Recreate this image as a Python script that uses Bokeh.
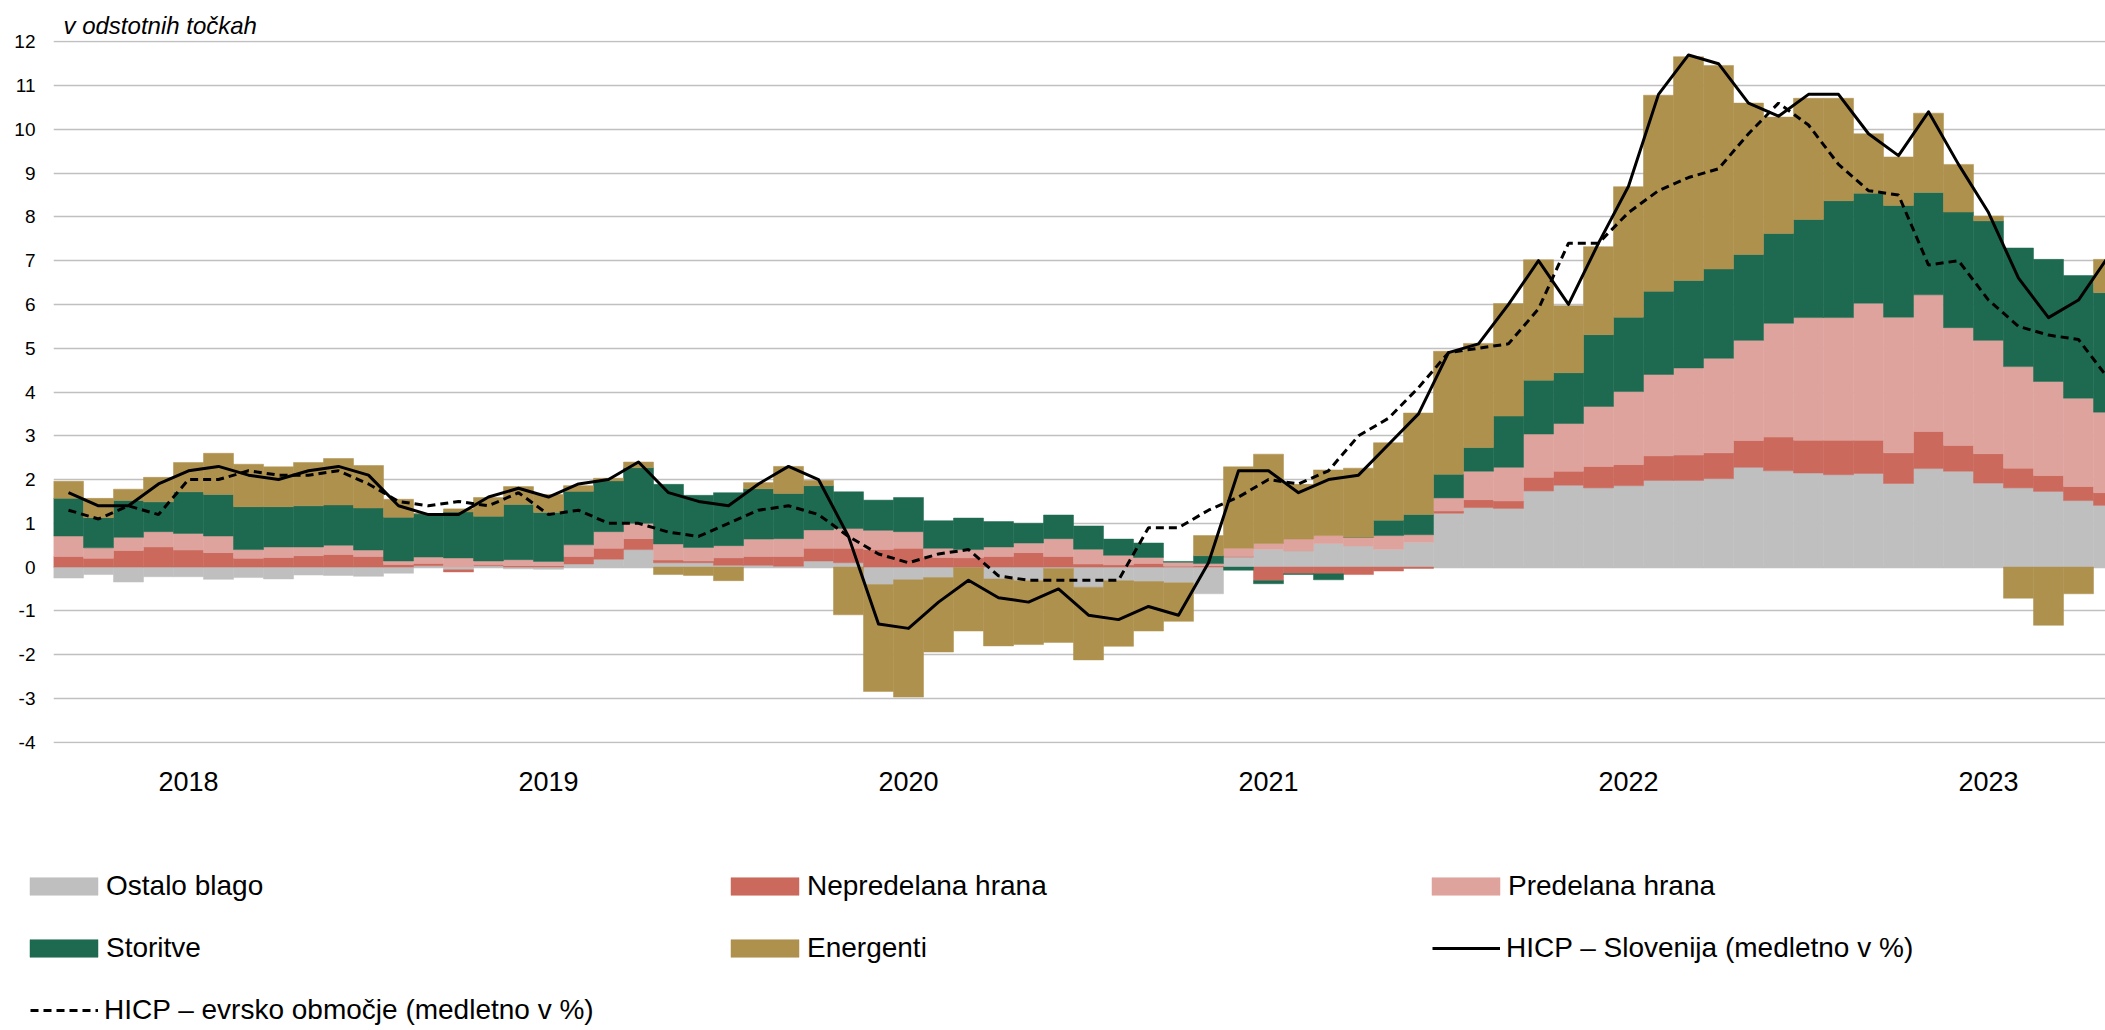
import numpy as np
from bokeh.plotting import figure
from bokeh.models import Range1d, FixedTicker, Legend, LegendItem
from bokeh.embed import file_html
from bokeh.resources import INLINE

# ---------------- data (monthly, Jan 2018 - Sep 2023) ----------------
ostalo_blago = [-0.25, -0.17, -0.34, -0.22, -0.22, -0.28, -0.24, -0.27, -0.18, -0.19, -0.21, -0.14,
                0.03, -0.06, 0.03, -0.04, -0.05, 0.07, 0.18, 0.40, 0.10, 0.10, 0.04, 0.04,
                0.02, 0.14, 0.10, -0.40, -0.29, -0.24, -0.01, -0.27, -0.31, -0.03, -0.46, -0.31,
                -0.33, -0.36, -0.61, 0.23, 0.41, 0.37, 0.54, 0.48, 0.41, 0.57, 1.23, 1.36,
                1.34, 1.74, 1.87, 1.81, 1.86, 1.98, 1.98, 2.02, 2.28, 2.20, 2.15, 2.11,
                2.14, 1.91, 2.25, 2.19, 1.92, 1.81, 1.73, 1.52, 1.41]
nepredelana_hrana = [0.24, 0.20, 0.38, 0.46, 0.39, 0.33, 0.20, 0.22, 0.26, 0.29, 0.24, 0.06,
                     0.05, -0.05, 0.03, 0.03, 0.03, 0.17, 0.25, 0.25, 0.06, 0.04, 0.17, 0.20,
                     0.22, 0.29, 0.33, 0.40, 0.43, 0.22, 0.21, 0.24, 0.33, 0.24, 0.07, 0.05,
                     0.08, 0.02, 0.03, 0.01, -0.31, -0.15, -0.15, -0.17, -0.09, -0.03, 0.05, 0.18,
                     0.17, 0.31, 0.32, 0.49, 0.48, 0.56, 0.58, 0.59, 0.61, 0.77, 0.75, 0.79,
                     0.76, 0.70, 0.85, 0.59, 0.67, 0.45, 0.36, 0.32, 0.29]
predelana_hrana = [0.47, 0.24, 0.30, 0.35, 0.38, 0.38, 0.20, 0.24, 0.20, 0.21, 0.15, 0.08,
                   0.15, 0.21, 0.08, 0.14, 0.10, 0.27, 0.38, 0.35, 0.37, 0.31, 0.28, 0.40,
                   0.41, 0.42, 0.45, 0.44, 0.38, 0.21, 0.19, 0.22, 0.22, 0.41, 0.34, 0.22,
                   0.14, 0.09, 0.05, 0.19, 0.13, 0.27, 0.18, 0.20, 0.31, 0.17, 0.30, 0.65,
                   0.77, 0.99, 1.09, 1.37, 1.67, 1.86, 1.99, 2.16, 2.29, 2.60, 2.80, 2.80,
                   3.13, 3.10, 3.12, 2.69, 2.59, 2.32, 2.15, 2.02, 1.84]
storitve = [0.86, 0.69, 0.84, 0.68, 0.95, 0.95, 0.98, 0.92, 0.94, 0.92, 0.96, 1.00,
            0.99, 1.05, 1.02, 1.26, 1.12, 1.22, 1.16, 1.27, 1.36, 1.19, 1.21, 1.15,
            1.03, 1.01, 0.84, 0.69, 0.78, 0.63, 0.72, 0.58, 0.45, 0.54, 0.53, 0.37,
            0.33, 0.02, 0.18, -0.07, -0.07, -0.02, -0.14, 0.00, 0.35, 0.46, 0.54, 0.54,
            1.17, 1.23, 1.16, 1.64, 1.70, 1.90, 2.00, 2.04, 1.96, 2.05, 2.24, 2.67,
            2.51, 2.55, 2.34, 2.64, 2.73, 2.71, 2.79, 2.80, 2.73]
energenti = [0.39, 0.44, 0.26, 0.56, 0.67, 0.94, 0.97, 0.91, 0.99, 1.06, 0.97, 0.41,
             0.00, 0.07, 0.43, 0.41, 0.41, 0.13, 0.06, 0.13, -0.17, -0.19, -0.31, 0.14,
             0.62, 0.12, -1.09, -2.44, -2.68, -1.70, -1.45, -1.53, -1.46, -1.69, -1.66, -1.50,
             -1.13, -0.88, 0.46, 1.86, 2.04, 1.25, 1.50, 1.58, 1.77, 2.32, 2.81, 2.38,
             2.57, 2.75, 1.53, 2.01, 2.98, 4.48, 5.11, 4.65, 3.46, 2.66, 2.77, 2.34,
             1.36, 1.11, 1.81, 1.09, 0.11, -0.71, -1.33, -0.61, 0.76]
hicp_slovenija = [1.7, 1.4, 1.4, 1.9, 2.2, 2.3, 2.1, 2.0, 2.2, 2.3, 2.1, 1.4,
                  1.2, 1.2, 1.6, 1.8, 1.6, 1.9, 2.0, 2.4, 1.7, 1.5, 1.4, 1.9,
                  2.3, 2.0, 0.7, -1.3, -1.4, -0.8, -0.3, -0.7, -0.8, -0.5, -1.1, -1.2,
                  -0.9, -1.1, 0.1, 2.2, 2.2, 1.7, 2.0, 2.1, 2.8, 3.5, 4.9, 5.1,
                  6.0, 7.0, 6.0, 7.4, 8.7, 10.8, 11.7, 11.5, 10.6, 10.3, 10.8, 10.8,
                  9.9, 9.4, 10.4, 9.2, 8.1, 6.6, 5.7, 6.1, 7.1]
hicp_evrsko = [1.3, 1.1, 1.4, 1.2, 2.0, 2.0, 2.2, 2.1, 2.1, 2.2, 1.9, 1.5,
               1.4, 1.5, 1.4, 1.7, 1.2, 1.3, 1.0, 1.0, 0.8, 0.7, 1.0, 1.3,
               1.4, 1.2, 0.7, 0.3, 0.1, 0.3, 0.4, -0.2, -0.3, -0.3, -0.3, -0.3,
               0.9, 0.9, 1.3, 1.6, 2.0, 1.9, 2.2, 3.0, 3.4, 4.1, 4.9, 5.0,
               5.1, 5.9, 7.4, 7.4, 8.1, 8.6, 8.9, 9.1, 9.9, 10.6, 10.1, 9.2,
               8.6, 8.5, 6.9, 7.0, 6.1, 5.5, 5.3, 5.2, 4.3]
year_labels = ["2018", "2019", "2020", "2021", "2022", "2023"]
year_tick_month = [4, 16, 28, 40, 52, 64]
y_ticks = list(range(-4, 13))

series_names = ["Ostalo blago", "Nepredelana hrana", "Predelana hrana", "Storitve", "Energenti"]
series_values = [ostalo_blago, nepredelana_hrana, predelana_hrana, storitve, energenti]
series_colors = ["#BFBFBF", "#CB695D", "#DFA39D", "#1E6A50", "#AF914E"]
line_names = ["HICP – Slovenija (medletno v %)", "HICP – evrsko območje (medletno v %)"]

FONT = "Liberation Sans"
W = 2105
H_MAIN = 810
H_LEG = 220

n = len(hicp_slovenija)
x = np.arange(n)

# ---------------- main chart ----------------
p = figure(width=W, height=H_MAIN, output_backend="svg", toolbar_location=None,
           x_range=Range1d(-0.5, -0.5 + (W - 53) / 30.0), y_range=Range1d(-4.03, 12.03),
           min_border_left=53, min_border_right=0, min_border_top=40, min_border_bottom=67,
           title="v odstotnih točkah")
p.outline_line_color = None
p.background_fill_color = "white"
p.border_fill_color = "white"

p.title.text_font = FONT
p.title.text_font_size = "24px"
p.title.text_font_style = "italic"
p.title.text_color = "black"
p.title.align = "left"
p.title.offset = 10
p.title.standoff = 4

pos_base = np.zeros(n)
neg_base = np.zeros(n)
for name, vals, color in zip(series_names, series_values, series_colors):
    v = np.array(vals, dtype=float)
    bottom = np.where(v >= 0, pos_base, neg_base)
    top = bottom + v
    pos_base = np.where(v >= 0, top, pos_base)
    neg_base = np.where(v < 0, top, neg_base)
    p.vbar(x=x, bottom=bottom, top=top, width=1.0, fill_color=color,
           line_color=color, line_width=0.5)

p.line(x, hicp_slovenija, line_color="black", line_width=3, line_join="round")
p.line(x, hicp_evrsko, line_color="black", line_width=3, line_dash="8 5")

p.yaxis.ticker = FixedTicker(ticks=y_ticks)
p.yaxis.major_label_overrides = {t: str(t) for t in y_ticks}
p.xaxis.ticker = FixedTicker(ticks=year_tick_month)
p.xaxis.major_label_overrides = {m: lab for m, lab in zip(year_tick_month, year_labels)}
for ax in (p.xaxis[0], p.yaxis[0]):
    ax.axis_line_color = None
    ax.major_tick_line_color = None
    ax.minor_tick_line_color = None
    ax.major_tick_out = 0
    ax.major_tick_in = 0
    ax.minor_tick_out = 0
    ax.minor_tick_in = 0
    ax.major_label_text_font = FONT
    ax.major_label_text_color = "black"
p.yaxis.major_label_text_font_size = "19px"
p.yaxis.major_label_standoff = 18
p.xaxis.major_label_text_font_size = "27px"
p.xaxis.major_label_standoff = 28

p.xgrid.grid_line_color = None
p.ygrid.grid_line_color = "#C0C0C0"
p.ygrid.grid_line_width = 1.5

# ---------------- legend panel (separate root, not frame-aligned) ----------------
lg = figure(width=W, height=H_LEG, output_backend="svg", toolbar_location=None,
            x_range=Range1d(0, 1), y_range=Range1d(0, 1),
            x_axis_location=None, y_axis_location=None,
            min_border_left=0, min_border_right=0, min_border_top=0, min_border_bottom=0)
lg.outline_line_color = None
lg.grid.visible = False
lg.background_fill_color = "white"
lg.border_fill_color = "white"

# legend-only renderers: one datum each, placed outside the visible range
bar_items = []
for name, color in zip(series_names, series_colors):
    r = lg.vbar(x=[10], bottom=[10], top=[11], width=1.0, fill_color=color,
                line_color=color, line_width=0.5)
    bar_items.append(LegendItem(label=name, renderers=[r]))
r1 = lg.line(x=[10, 11], y=[10, 10], line_color="black", line_width=3)
r2 = lg.line(x=[10, 11], y=[10, 10], line_color="black", line_width=3, line_dash="8 5")

common = dict(padding=0, margin=0, border_line_color=None, background_fill_alpha=0,
              label_text_font=FONT, label_text_font_size="28px", label_text_color="black",
              label_height=32, spacing=30)

leg_bars = Legend(items=bar_items, orientation="horizontal", ncols=3,
                  location=(21, 66), glyph_width=85, glyph_height=22,
                  label_standoff=0, label_width=586, **common)
leg_si = Legend(items=[LegendItem(label=line_names[0], renderers=[r1])],
                location=(1432, 66), glyph_width=68, glyph_height=18,
                label_standoff=6, **common)
leg_ea = Legend(items=[LegendItem(label=line_names[1], renderers=[r2])],
                location=(30, 4), glyph_width=68, glyph_height=18,
                label_standoff=6, **common)
for lgd in (leg_bars, leg_si, leg_ea):
    lg.add_layout(lgd)

open("out.html", "w").write(file_html([p, lg], INLINE))
